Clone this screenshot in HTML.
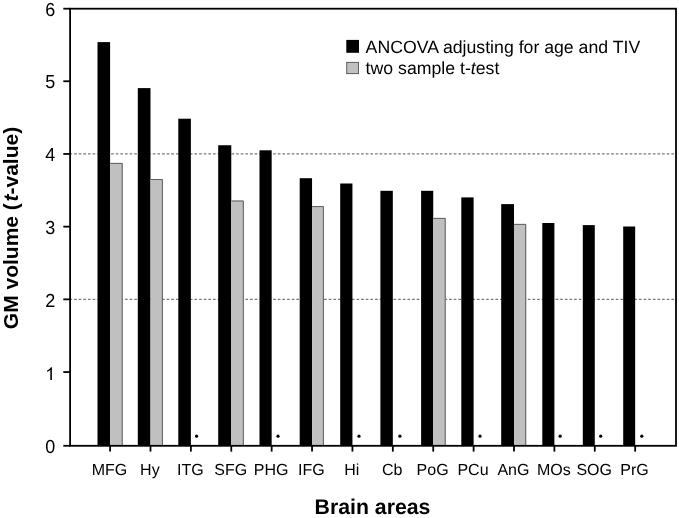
<!DOCTYPE html><html><head><meta charset="utf-8"><style>html,body{margin:0;padding:0;background:#fff;overflow:hidden;}svg{display:block;will-change:transform;}text{font-family:"Liberation Sans",sans-serif;text-rendering:geometricPrecision;}</style></head><body>
<svg width="679" height="518" viewBox="0 0 679 518">
<rect x="0" y="0" width="679" height="518" fill="#fff"/>
<line x1="70" y1="153.90" x2="676" y2="153.90" stroke="#7a7a7a" stroke-width="1.3" stroke-dasharray="2.7 1.93" stroke-dashoffset="0.58"/>
<line x1="70" y1="299.40" x2="676" y2="299.40" stroke="#7a7a7a" stroke-width="1.3" stroke-dasharray="2.7 1.93" stroke-dashoffset="0.58"/>
<rect x="97.50" y="42.10" width="12.60" height="403.70" fill="#000"/>
<rect x="110.10" y="162.90" width="12.60" height="282.90" fill="#c0c0c0"/>
<path d="M110.10 163.40H122.20V445.80" fill="none" stroke="#5e5e5e" stroke-width="1"/>
<rect x="137.80" y="88.10" width="12.69" height="357.70" fill="#000"/>
<rect x="150.49" y="179.00" width="12.41" height="266.80" fill="#c0c0c0"/>
<path d="M150.49 179.50H162.40V445.80" fill="none" stroke="#5e5e5e" stroke-width="1"/>
<rect x="178.30" y="118.70" width="12.58" height="327.10" fill="#000"/>
<circle cx="196.60" cy="436.2" r="1.6" fill="#000"/>
<rect x="218.20" y="145.25" width="13.07" height="300.55" fill="#000"/>
<rect x="231.27" y="200.50" width="12.53" height="245.30" fill="#c0c0c0"/>
<path d="M231.27 201.00H243.30V445.80" fill="none" stroke="#5e5e5e" stroke-width="1"/>
<rect x="259.50" y="150.30" width="12.16" height="295.50" fill="#000"/>
<circle cx="278.00" cy="436.2" r="1.6" fill="#000"/>
<rect x="299.70" y="178.20" width="12.35" height="267.60" fill="#000"/>
<rect x="312.05" y="206.10" width="11.85" height="239.70" fill="#c0c0c0"/>
<path d="M312.05 206.60H323.40V445.80" fill="none" stroke="#5e5e5e" stroke-width="1"/>
<rect x="340.20" y="183.50" width="12.24" height="262.30" fill="#000"/>
<circle cx="359.00" cy="436.2" r="1.6" fill="#000"/>
<rect x="380.40" y="190.80" width="12.43" height="255.00" fill="#000"/>
<circle cx="399.90" cy="436.2" r="1.6" fill="#000"/>
<rect x="421.10" y="190.80" width="12.12" height="255.00" fill="#000"/>
<rect x="433.22" y="217.90" width="12.48" height="227.90" fill="#c0c0c0"/>
<path d="M433.22 218.40H445.20V445.80" fill="none" stroke="#5e5e5e" stroke-width="1"/>
<rect x="461.30" y="197.40" width="12.31" height="248.40" fill="#000"/>
<circle cx="480.00" cy="436.2" r="1.6" fill="#000"/>
<rect x="501.20" y="204.10" width="12.80" height="241.70" fill="#000"/>
<rect x="514.00" y="223.90" width="12.20" height="221.90" fill="#c0c0c0"/>
<path d="M514.00 224.40H525.70V445.80" fill="none" stroke="#5e5e5e" stroke-width="1"/>
<rect x="542.30" y="223.00" width="12.09" height="222.80" fill="#000"/>
<circle cx="560.15" cy="436.2" r="1.6" fill="#000"/>
<rect x="582.80" y="225.10" width="11.98" height="220.70" fill="#000"/>
<circle cx="600.70" cy="436.2" r="1.6" fill="#000"/>
<rect x="623.20" y="226.50" width="11.97" height="219.30" fill="#000"/>
<circle cx="641.80" cy="436.2" r="1.6" fill="#000"/>
<rect x="70.1" y="8.70" width="605.9" height="437.10" fill="none" stroke="#000" stroke-width="1.8"/>
<line x1="63.3" y1="445.80" x2="70.1" y2="445.80" stroke="#000" stroke-width="1.8"/>
<text transform="translate(55.2 452.80) scale(1 1.05)" x="0" y="0" font-size="18" text-anchor="end" fill="#000">0</text>
<line x1="63.3" y1="372.05" x2="70.1" y2="372.05" stroke="#000" stroke-width="1.8"/>
<path transform="translate(45.19 380.10) scale(0.0087890625 -0.0087890625)" d="M763 0H583V1147Q518 1085 412.5 1023T223 930V1104Q375 1175 489 1276T650 1466H763Z" fill="#000"/>
<line x1="63.3" y1="299.35" x2="70.1" y2="299.35" stroke="#000" stroke-width="1.8"/>
<text transform="translate(55.2 306.80) scale(1 1.05)" x="0" y="0" font-size="18" text-anchor="end" fill="#000">2</text>
<line x1="63.3" y1="226.65" x2="70.1" y2="226.65" stroke="#000" stroke-width="1.8"/>
<text transform="translate(55.2 233.80) scale(1 1.05)" x="0" y="0" font-size="18" text-anchor="end" fill="#000">3</text>
<line x1="63.3" y1="153.95" x2="70.1" y2="153.95" stroke="#000" stroke-width="1.8"/>
<text transform="translate(55.2 160.70) scale(1 1.05)" x="0" y="0" font-size="18" text-anchor="end" fill="#000">4</text>
<line x1="63.3" y1="81.25" x2="70.1" y2="81.25" stroke="#000" stroke-width="1.8"/>
<text transform="translate(55.2 87.75) scale(1 1.05)" x="0" y="0" font-size="18" text-anchor="end" fill="#000">5</text>
<line x1="63.3" y1="8.70" x2="70.1" y2="8.70" stroke="#000" stroke-width="1.8"/>
<text transform="translate(55.2 15.60) scale(1 1.05)" x="0" y="0" font-size="18" text-anchor="end" fill="#000">6</text>
<line x1="110.10" y1="445.80" x2="110.10" y2="451.6" stroke="#000" stroke-width="1.8"/>
<text transform="translate(109.50 475) scale(1 1.0)" x="0" y="0" font-size="16" text-anchor="middle" fill="#000">MFG</text>
<line x1="150.49" y1="445.80" x2="150.49" y2="451.6" stroke="#000" stroke-width="1.8"/>
<text transform="translate(149.89 475) scale(1 1.0)" x="0" y="0" font-size="16" text-anchor="middle" fill="#000">Hy</text>
<line x1="190.88" y1="445.80" x2="190.88" y2="451.6" stroke="#000" stroke-width="1.8"/>
<text transform="translate(190.28 475) scale(1 1.0)" x="0" y="0" font-size="16" text-anchor="middle" fill="#000">ITG</text>
<line x1="231.27" y1="445.80" x2="231.27" y2="451.6" stroke="#000" stroke-width="1.8"/>
<text transform="translate(230.67 475) scale(1 1.0)" x="0" y="0" font-size="16" text-anchor="middle" fill="#000">SFG</text>
<line x1="271.66" y1="445.80" x2="271.66" y2="451.6" stroke="#000" stroke-width="1.8"/>
<text transform="translate(271.06 475) scale(1 1.0)" x="0" y="0" font-size="16" text-anchor="middle" fill="#000">PHG</text>
<line x1="312.05" y1="445.80" x2="312.05" y2="451.6" stroke="#000" stroke-width="1.8"/>
<text transform="translate(311.45 475) scale(1 1.0)" x="0" y="0" font-size="16" text-anchor="middle" fill="#000">IFG</text>
<line x1="352.44" y1="445.80" x2="352.44" y2="451.6" stroke="#000" stroke-width="1.8"/>
<text transform="translate(351.84 475) scale(1 1.0)" x="0" y="0" font-size="16" text-anchor="middle" fill="#000">Hi</text>
<line x1="392.83" y1="445.80" x2="392.83" y2="451.6" stroke="#000" stroke-width="1.8"/>
<text transform="translate(392.23 475) scale(1 1.0)" x="0" y="0" font-size="16" text-anchor="middle" fill="#000">Cb</text>
<line x1="433.22" y1="445.80" x2="433.22" y2="451.6" stroke="#000" stroke-width="1.8"/>
<text transform="translate(432.62 475) scale(1 1.0)" x="0" y="0" font-size="16" text-anchor="middle" fill="#000">PoG</text>
<line x1="473.61" y1="445.80" x2="473.61" y2="451.6" stroke="#000" stroke-width="1.8"/>
<text transform="translate(473.01 475) scale(1 1.0)" x="0" y="0" font-size="16" text-anchor="middle" fill="#000">PCu</text>
<line x1="514.00" y1="445.80" x2="514.00" y2="451.6" stroke="#000" stroke-width="1.8"/>
<text transform="translate(513.40 475) scale(1 1.0)" x="0" y="0" font-size="16" text-anchor="middle" fill="#000">AnG</text>
<line x1="554.39" y1="445.80" x2="554.39" y2="451.6" stroke="#000" stroke-width="1.8"/>
<text transform="translate(553.79 475) scale(1 1.0)" x="0" y="0" font-size="16" text-anchor="middle" fill="#000">MOs</text>
<line x1="594.78" y1="445.80" x2="594.78" y2="451.6" stroke="#000" stroke-width="1.8"/>
<text transform="translate(594.18 475) scale(1 1.0)" x="0" y="0" font-size="16" text-anchor="middle" fill="#000">SOG</text>
<line x1="635.17" y1="445.80" x2="635.17" y2="451.6" stroke="#000" stroke-width="1.8"/>
<text transform="translate(634.57 475) scale(1 1.0)" x="0" y="0" font-size="16" text-anchor="middle" fill="#000">PrG</text>
<rect x="346.3" y="39.9" width="12.7" height="12.9" fill="#000"/>
<rect x="346.7" y="62.4" width="11.8" height="11.2" fill="#c0c0c0" stroke="#5e5e5e" stroke-width="1"/>
<text x="365.6" y="52.7" font-size="17.7" fill="#000">ANCOVA adjusting for age and TIV</text>
<text x="365.6" y="73.9" font-size="17.7" fill="#000">two sample t-<tspan font-style="italic">t</tspan>est</text>
<text x="372.5" y="514" font-size="21.25" font-weight="bold" text-anchor="middle" fill="#000">Brain areas</text>
</svg>
<div id="yl" style="position:absolute;left:0;top:0;width:240px;height:30px;line-height:30px;text-align:center;white-space:nowrap;font-family:'Liberation Sans',sans-serif;font-weight:bold;font-size:21px;transform-origin:0 0;transform:translate(-4px,348px) rotate(-90deg);will-change:transform;">GM volume (<i style="margin-left:1.6px">t</i>-value)</div>
</body></html>
